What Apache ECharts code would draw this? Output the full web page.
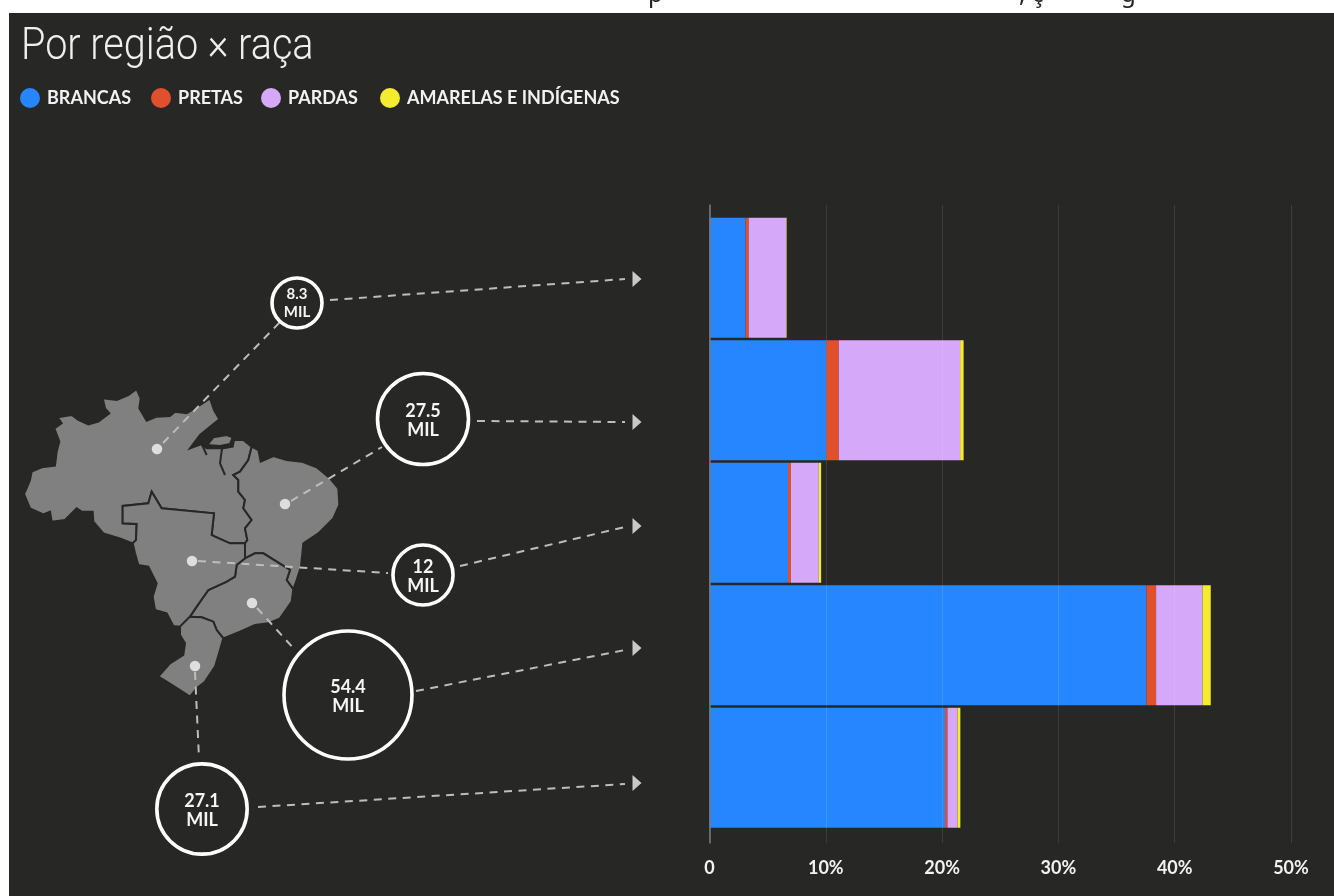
<!DOCTYPE html>
<html>
<head>
<meta charset="utf-8">
<style>
  html, body { margin: 0; padding: 0; background: #fff; }
  #main { width: 1334px; height: 896px; }
</style>
<script src="https://cdn.jsdelivr.net/npm/echarts@6/dist/echarts.min.js"></script>
</head>
<body>
<div id="main"></div>
<script>
// dados
const regions = ['Norte', 'Nordeste', 'Centro-Oeste', 'Sudeste', 'Sul'];
const brancas = [3.11, 10.05, 6.75, 37.57, 20.25];
const pretas = [0.26, 1.07, 0.25, 0.83, 0.21];
const pardas = [3.21, 10.43, 2.4, 4.0, 0.87];
const amarelasIndigenas = [0.05, 0.3, 0.2, 0.7, 0.24];
const totalMil = [8.3, 27.5, 12, 54.4, 27.1];
const xTicks = [0, 10, 20, 30, 40, 50];

// posicoes na tela (px) das anotacoes do mapa
const dotPos = [[157, 449], [285, 504], [192, 561], [252, 603], [195, 666]];
const bubblePos = [[297, 303], [423, 419], [423, 575], [348, 695], [202, 809]];
const dotLinks = [[[163, 443], [280, 322]], [[291, 501], [382, 447]], [[198, 561], [388, 573]], [[257, 608], [295, 650]], [[195, 672], [199, 758]]];
const arrowLinks = [[[330, 300], [625, 279]], [[477, 421], [625, 422]], [[460, 566], [625, 527]], [[416, 691], [625, 650]], [[258, 807], [625, 784]]];
const arrowPos = [[637, 279], [637, 422], [637, 526], [637, 648], [637, 783]];
const legendNames = ['BRANCAS', 'PRETAS', 'PARDAS', 'AMARELAS E INDÍGENAS'];
const legendLeft = [20, 151, 261, 380];

// contornos do mapa, em px do recorte x3
const outlineNorte = [[42,342],[52,320],[60,300],[65,275],[95,262],[135,257],[140,215],[148,185],[133,145],[155,130],[143,112],[185,105],[205,120],[235,133],[265,125],[298,100],[285,85],[278,55],[320,60],[355,45],[380,27],[392,55],[388,85],[410,122],[440,110],[480,108],[495,95],[530,100],[555,85],[600,55],[612,90],[628,118],[600,140],[570,165],[540,205],[575,192],[590,205],[640,205],[668,200],[672,180],[700,180],[725,200],[715,240],[690,275],[670,285],[685,300],[685,335],[705,360],[700,385],[725,420],[705,445],[712,480],[705,490],[660,490],[615,470],[605,465],[612,400],[455,385],[425,335],[415,370],[338,378],[338,430],[380,432],[378,480],[368,490],[330,475],[280,460],[250,425],[248,395],[215,395],[200,385],[165,420],[125,425],[120,395],[100,403],[60,385]];
const outlineMarajo = [[592,195],[610,172],[650,165],[668,172],[660,192],[630,198]];
const outlineNordeste = [[725,200],[745,210],[752,245],[790,228],[830,240],[875,245],[920,262],[960,295],[985,325],[988,375],[970,415],[925,460],[880,490],[873,560],[860,600],[850,628],[830,600],[840,570],[800,545],[760,520],[735,520],[705,535],[705,490],[712,480],[705,445],[725,420],[700,385],[705,360],[685,335],[685,300],[670,285],[690,275],[715,240]];
const outlineSudeste = [[705,535],[735,520],[760,520],[800,545],[840,570],[830,600],[850,628],[845,665],[810,715],[775,730],[735,735],[690,755],[640,775],[620,750],[610,725],[575,712],[540,710],[560,680],[595,630],[650,605],[675,590],[680,555]];
const outlineCentroOeste = [[368,490],[378,480],[380,432],[338,430],[338,378],[415,370],[425,335],[455,385],[612,400],[605,465],[615,470],[660,490],[705,490],[705,535],[680,555],[675,590],[650,605],[595,630],[560,680],[540,710],[510,740],[490,738],[470,700],[435,690],[428,650],[440,610],[415,560],[385,555],[375,520]];
const outlineSul = [[540,710],[575,712],[610,725],[620,750],[640,775],[630,810],[615,860],[585,905],[560,925],[540,950],[510,930],[470,905],[445,890],[480,850],[520,825],[525,790],[510,765],[510,740]];
const inlets = [[[575,192],[590,225]], [[636,205],[630,250],[645,285]]];

const fromCrop = p => [10 + p[0] / 3, 380 + p[1] / 3];
const toFeature = (name, ring) => ({
  type: 'Feature',
  properties: { name: name },
  geometry: { type: 'Polygon', coordinates: [ring.concat([ring[0]]).map(p => [p[0], -p[1]])] }
});
echarts.registerMap('brasil', {
  type: 'FeatureCollection',
  features: [
    toFeature('Norte', outlineNorte),
    toFeature('Marajo', outlineMarajo),
    toFeature('Nordeste', outlineNordeste),
    toFeature('Sudeste', outlineSudeste),
    toFeature('Centro-Oeste', outlineCentroOeste),
    toFeature('Sul', outlineSul)
  ]
});

const labelFont = 'Lato, "Liberation Sans", sans-serif';
const BUBBLE_K = 17.35;

const barSeries = (name, data, color) => ({
  name: name,
  type: 'bar',
  stack: 'total',
  xAxisIndex: 0,
  yAxisIndex: 0,
  barWidth: 120,
  itemStyle: { color: color },
  data: data
});

const glyph = (text, left) => ({
  type: 'text', z: 0, left: left, top: -17,
  style: { text: text, fill: '#222', font: '24px "Noto Sans"' }
});

let myChart = echarts.init(document.getElementById('main'), null, { renderer: 'canvas' });
myChart.setOption({
  animation: false,
  backgroundColor: '#fff',
  legend: legendNames.map((name, i) => ({
    left: legendLeft[i],
    top: 88,
    icon: 'circle',
    itemWidth: 20,
    itemHeight: 20,
    itemGap: 0,
    padding: 0,
    data: [name],
    textStyle: { color: '#f2f2f2', fontFamily: labelFont, fontWeight: 'bold', fontSize: 18, padding: [1, 0, 0, 2] }
  })),
  graphic: [
    // faixa clara de cima: sobra do titulo da pagina, cortado pelo painel escuro
    glyph('p', 648),
    glyph(',', 1019),
    glyph('ç', 1032),
    glyph('g', 1121),
    { type: 'rect', z: 0, shape: { x: 9, y: 13, width: 1325, height: 883 }, style: { fill: '#272726' } },
    {
      type: 'text',
      z: 10,
      x: 21,
      y: 26,
      scaleX: 0.9,
      style: { text: 'Por região × raça', fill: '#efefef', font: '300 44px Roboto' }
    }
  ],
  grid: [
    { left: 709.5, right: 43, top: 216.5, height: 612.5 },
    { left: 709.5, right: 43, top: 205, bottom: 53 },
    { left: 0, right: 0, top: 0, bottom: 0 }
  ],
  xAxis: [
    { gridIndex: 0, type: 'value', min: 0, max: 50, show: false },
    {
      gridIndex: 1,
      type: 'value',
      min: 0,
      max: 50,
      interval: 10,
      z: 5,
      axisLine: { show: false },
      axisTick: { show: false },
      splitLine: { show: true, lineStyle: { color: 'rgba(255, 255, 255, 0.1)' } },
      axisLabel: {
        margin: 16,
        color: '#f2f2f2',
        fontFamily: labelFont,
        fontWeight: 'bold',
        fontSize: 18,
        customValues: xTicks,
        formatter: v => (v === 0 ? '0' : v + '%')
      }
    },
    { gridIndex: 2, type: 'value', min: 0, max: 1334, show: false }
  ],
  yAxis: [
    { gridIndex: 0, type: 'category', inverse: true, data: regions, show: false },
    {
      gridIndex: 1,
      type: 'value',
      min: 0,
      max: 1,
      z: 5,
      axisLine: { show: true, lineStyle: { color: '#7a7a7a', width: 1.5 } },
      axisTick: { show: false },
      axisLabel: { show: false },
      splitLine: { show: false }
    },
    { gridIndex: 2, type: 'value', min: 0, max: 896, inverse: true, show: false }
  ],
  geo: {
    map: 'brasil',
    roam: false,
    aspectScale: 1,
    layoutCenter: [10 + (42 + 988) / 6, 380 + (27 + 950) / 6],
    layoutSize: (988 - 42) / 3,
    silent: true,
    label: { show: false },
    itemStyle: { areaColor: '#808080', borderColor: '#272726', borderWidth: 2 },
    emphasis: { disabled: true }
  },
  series: [
    barSeries(legendNames[0], brancas, '#2686ff'),
    barSeries(legendNames[1], pretas, '#e0502d'),
    barSeries(legendNames[2], pardas, '#d5a8fa'),
    barSeries(legendNames[3], amarelasIndigenas, '#f5ec30'),
    {
      type: 'lines',
      coordinateSystem: 'cartesian2d',
      xAxisIndex: 2,
      yAxisIndex: 2,
      polyline: true,
      silent: true,
      z: 3,
      lineStyle: { color: '#272726', width: 2, opacity: 1 },
      data: inlets.map(l => ({ coords: l.map(fromCrop) }))
    },
    {
      type: 'lines',
      coordinateSystem: 'cartesian2d',
      xAxisIndex: 2,
      yAxisIndex: 2,
      silent: true,
      z: 4,
      lineStyle: { color: '#bdbdbd', width: 2, type: [8, 6.5], opacity: 1 },
      data: dotLinks.concat(arrowLinks).map(l => ({ coords: l }))
    },
    {
      type: 'scatter',
      xAxisIndex: 2,
      yAxisIndex: 2,
      silent: true,
      z: 5,
      symbolSize: 10.5,
      itemStyle: { color: '#dedede', opacity: 1 },
      data: dotPos
    },
    {
      type: 'scatter',
      xAxisIndex: 2,
      yAxisIndex: 2,
      silent: true,
      z: 5,
      symbol: 'triangle',
      symbolRotate: -90,
      symbolSize: [16, 9],
      itemStyle: { color: '#c9c9c9', opacity: 1 },
      data: arrowPos
    },
    {
      type: 'scatter',
      xAxisIndex: 2,
      yAxisIndex: 2,
      silent: true,
      z: 6,
      symbolSize: (val, p) => Math.sqrt(totalMil[p.dataIndex]) * BUBBLE_K,
      itemStyle: { color: '#272726', borderColor: '#fff', borderWidth: 3.6, opacity: 1 },
      label: {
        show: true,
        position: 'inside',
        offset: [0, 2],
        color: '#f5f5f5',
        fontFamily: labelFont,
        fontWeight: 'bold',
        fontSize: 18,
        lineHeight: 19,
        formatter: p => totalMil[p.dataIndex] + '\nMIL'
      },
      data: bubblePos.map((p, i) => (i === 0 ? { value: p, label: { fontSize: 15, lineHeight: 18, offset: [0, 0] } } : { value: p }))
    }
  ]
});
</script>
</body>
</html>
